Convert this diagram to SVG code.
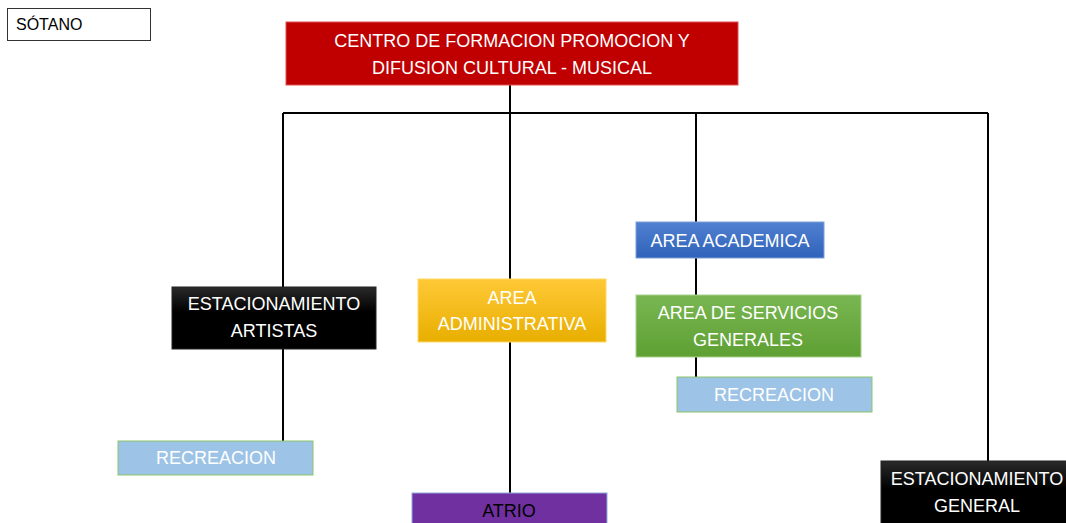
<svg xmlns="http://www.w3.org/2000/svg" width="1066" height="523" viewBox="0 0 1066 523">
<style>
text{font-family:"Liberation Sans",Arial,sans-serif;font-size:18px;fill:#fff;text-anchor:middle}
.c{stroke:#000;stroke-width:2;fill:none}
</style>
<defs>
<linearGradient id="gy" x1="0" y1="0" x2="0" y2="1"><stop offset="0" stop-color="#FFC937"/><stop offset="1" stop-color="#E8AE00"/></linearGradient>
<linearGradient id="gb" x1="0" y1="0" x2="0" y2="1"><stop offset="0" stop-color="#5080D0"/><stop offset="1" stop-color="#2F62BA"/></linearGradient>
<linearGradient id="gg" x1="0" y1="0" x2="0" y2="1"><stop offset="0" stop-color="#79B652"/><stop offset="1" stop-color="#5EA033"/></linearGradient>
<linearGradient id="gk" x1="0" y1="0" x2="0" y2="1"><stop offset="0" stop-color="#2a2a2a"/><stop offset="0.4" stop-color="#000"/><stop offset="1" stop-color="#000"/></linearGradient>
</defs>
<g id="connectors">
<path class="c" d="M510 85V493M283 113H988M283 113V441M696 113V377M988 113V461"/>
</g>
<g id="sotano"><rect x="7.5" y="8.5" width="143" height="32" fill="#fff" stroke="#333"/><text x="16" y="30" style="fill:#000;text-anchor:start;font-size:16px">SÓTANO</text></g>
<g id="centro"><rect x="286" y="22" width="452" height="63" fill="#C00000" stroke="#E05050"/><text x="512" y="47">CENTRO DE FORMACION PROMOCION Y</text><text x="512" y="74">DIFUSION CULTURAL - MUSICAL</text></g>
<g id="est-artistas"><rect x="172" y="287" width="204" height="62" fill="url(#gk)" stroke="#222"/><text x="274" y="310">ESTACIONAMIENTO</text><text x="274" y="337">ARTISTAS</text></g>
<g id="admin"><rect x="418" y="279" width="188" height="63" fill="url(#gy)" stroke="#FFD966"/><text x="512" y="304">AREA</text><text x="512" y="330">ADMINISTRATIVA</text></g>
<g id="academica"><rect x="636" y="222" width="188" height="36" fill="url(#gb)" stroke="#7FA0DA"/><text x="730" y="247">AREA ACADEMICA</text></g>
<g id="servicios"><rect x="636" y="295" width="225" height="62" fill="url(#gg)" stroke="#A9D18E"/><text x="748" y="319">AREA DE SERVICIOS</text><text x="748" y="346">GENERALES</text></g>
<g id="recreacion-2"><rect x="677" y="377" width="195" height="35" fill="#9DC3E6" stroke="#8CC56A"/><text x="774" y="401">RECREACION</text></g>
<g id="recreacion-1"><rect x="118" y="441" width="195" height="34" fill="#9DC3E6" stroke="#8CC56A"/><text x="216" y="464">RECREACION</text></g>
<g id="atrio"><rect x="412" y="493" width="195" height="40" fill="#7030A0" stroke="#8FAADC"/><text x="509" y="517" style="fill:#000">ATRIO</text></g>
<g id="est-general"><rect x="881" y="461" width="195" height="70" fill="url(#gk)" stroke="#222"/><text x="977" y="485">ESTACIONAMIENTO</text><text x="977" y="512">GENERAL</text></g>
</svg>
